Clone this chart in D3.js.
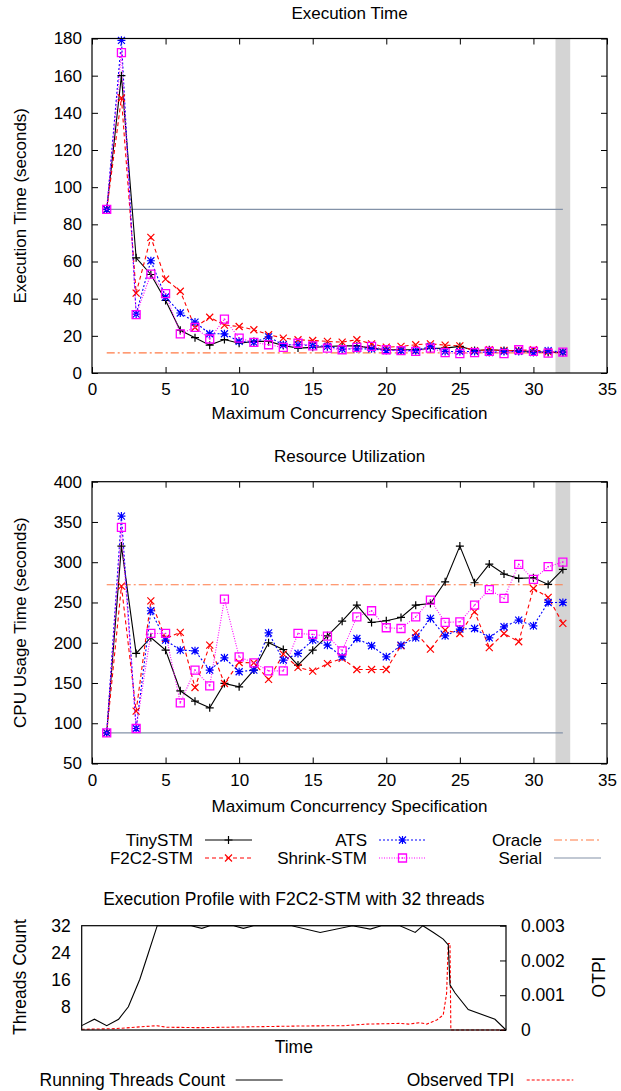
<!DOCTYPE html>
<html>
<head>
<meta charset="utf-8">
<script src="https://cdn.jsdelivr.net/npm/d3@7"></script>
<style>
  body { margin:0; background:#fff; }
  text { font-family:"Liberation Sans", Arial, sans-serif; fill:#000; }
</style>
</head>
<body>
<svg width="621" height="1091"></svg>
<script>
// concurrency levels 1..32
const conc = d3.range(1, 33);

// execution time (seconds)
const timeTiny   = [88,160,62,53,39,23,19,15,18,16,17,17,14.8,13.4,13.8,14.3,14.6,14.6,13.4,12.5,12.5,12.5,13.2,13.4,14.3,12.1,12.5,12.1,11.9,11.6,11,11.2];
const timeF2C2   = [88,148,43,73,50.5,44,24.5,30,25.8,25,23.3,20.6,18.8,17.9,17.5,17,16.6,17.9,15.7,13.9,14.3,15.2,15.7,15,14.6,12,12.5,12.1,12.1,12.5,11.4,11.2];
const timeATS    = [88,179,31.7,60.4,40.9,32.3,27.4,21.1,21.1,17,16.5,19.4,15.2,15.2,14.8,14.3,12.9,13,13,12.1,12.1,12,14.3,11.6,11.6,11.6,11,11.6,11.6,11,12,11.2];
const timeShrink = [88,172.4,31.4,53.2,42.7,21.1,24.5,18.3,29,18.8,16.5,15.2,13.8,16,14.6,13.4,12.5,13.8,14.3,12.5,12,11.6,13.4,11,10.4,11,11.6,10.4,12.5,11.6,10.7,11.2];
const timeOracle = 10.8, timeSerial = 88;

// cpu usage time (seconds)
const cpuTiny   = [88,320,186.7,206.5,190.8,140.3,127.4,119.1,149.4,145.2,166,200,191.6,172.2,190.8,208.6,226.8,246.7,225.2,227.3,231.4,246.7,248.8,275.7,320,274.5,297.7,285.3,279.9,280.7,272.4,291];
const cpuF2C2   = [88,270.3,115,252,205.3,212.8,144.4,197,149.4,175.5,175,154.4,185.8,169.3,164.7,174,180.5,166.8,166.8,166.8,196.2,212.3,192,215.7,211.5,238.4,194,211.5,201.2,267.4,256.3,224];
const cpuATS    = [88,357.3,93.5,239.7,203.2,190.8,190,166,181.3,164,166,212.3,178.4,186.7,203.2,197,182.5,205.3,196.2,182.5,197,206.1,230.2,208.6,217,217.7,206.1,219.8,228,221,250,250];
const cpuShrink = [88,343.2,93.5,211.5,211.5,125.4,166,146.5,254.2,182.5,175,165.1,165.1,211.5,210.3,208.2,190,232.2,239.7,218.6,217.7,232.2,252.9,225.2,226,246.7,266,255,297.3,278.6,294.4,300.2];
const cpuOracle = 272, cpuSerial = 88;

const band = [31.5, 32.5];   // shaded column

// execution profile (time as % of run)
const thrT = [0,3,5.9,8.7,11,13.7,15.7,17.8,25.8,28.3,30.2,35.8,38.1,40.5,49.5,56.2,63.8,68,70.6,75,78.6,80.4,82.9,85.2,86.4,86.8,88,91.1,97.4,100];
const thrN = [2.3,4.2,2.3,4.2,7.9,16.1,23.8,32,32,31.2,32,32,31.2,32,32,30,32,31,32,32,30,32,30,28,26.3,14.4,12,7.1,4.2,1];
const tpiT = [0,8,17.7,20,27.9,51.4,61.6,67.2,75,77,79.7,81.3,83.7,85.2,86,86.4,86.8,87,100];
const tpiV = [0.00002,0.00004,0.000124,0.00008,0.000067,0.000115,0.000124,0.00017,0.00019,0.00017,0.00021,0.00017,0.00029,0.00043,0.00105,0.00249,0.00249,0,0];

const svg = d3.select('svg');

const styles = [
  {name:'TinySTM',    c:'#000',    dash:null,     m:'plus'},
  {name:'F2C2-STM',   c:'#ff0000', dash:'4,3',    m:'cross'},
  {name:'ATS',        c:'#0000ff', dash:'2,2',    m:'star'},
  {name:'Shrink-STM', c:'#ff00ff', dash:'1,1.5',  m:'square'}
];
const oracleStyle = {c:'#ff7a45', dash:'8,3,2,3'};
const serialStyle = {c:'#8392a8', dash:null};

function marker(g, kind, x, y, c){
  const p = {
    plus:  'M-4,0H4M0,-4V4',
    cross: 'M-3.5,-3.5L3.5,3.5M-3.5,3.5L3.5,-3.5',
    star:  'M-4,0H4M0,-4V4M-3.5,-3.5L3.5,3.5M-3.5,3.5L3.5,-3.5',
    square:'M-4,-4H4V4H-4Z'
  }[kind];
  g.append('path').attr('d', p).attr('transform', `translate(${x},${y})`)
    .attr('fill','none').attr('stroke', c).attr('stroke-width', kind=='square'?1.3:1.2);
  if (kind=='square')
    g.append('rect').attr('x', x-0.7).attr('y', y-0.7).attr('width',1.4).attr('height',1.4).attr('fill', c);
}

function lineChart(o){
  const x = d3.scaleLinear().domain([0,35]).range([92,607]);
  const y = d3.scaleLinear().domain(o.ydom).range(o.yr);
  const g = svg.append('g');

  g.append('rect').attr('x', x(band[0])).attr('y', y.range()[1])
    .attr('width', x(band[1])-x(band[0])).attr('height', y.range()[0]-y.range()[1]).attr('fill','#d4d4d4');

  // ticks on all four sides, pointing inward
  const tk = 6;
  g.append('g').attr('transform',`translate(0,${o.yr[0]})`)
    .call(d3.axisBottom(x).ticks(7).tickSize(-tk).tickPadding(tk+4))
    .call(a=>a.select('.domain').remove());
  g.append('g').attr('transform',`translate(0,${o.yr[1]})`)
    .call(d3.axisTop(x).ticks(7).tickSize(-tk).tickFormat(''))
    .call(a=>a.select('.domain').remove());
  g.append('g').attr('transform',`translate(92,0)`)
    .call(d3.axisLeft(y).tickValues(o.yt).tickSize(-tk).tickPadding(tk+4))
    .call(a=>a.select('.domain').remove());
  g.append('g').attr('transform',`translate(607,0)`)
    .call(d3.axisRight(y).tickValues(o.yt).tickSize(-tk).tickFormat(''))
    .call(a=>a.select('.domain').remove());
  g.selectAll('.tick text').attr('font-size', 17).attr('font-family','"Liberation Sans", Arial, sans-serif');
  g.selectAll('.tick line').attr('stroke','#000');

  const ref = (v, s) => g.append('line').attr('x1', x(1)).attr('x2', x(32))
    .attr('y1', y(v)).attr('y2', y(v)).attr('stroke', s.c).attr('stroke-width', 1.2)
    .attr('stroke-dasharray', s.dash);
  ref(o.serial, serialStyle);
  ref(o.oracle, oracleStyle);

  const line = d3.line().x((d,i)=>x(conc[i])).y(d=>y(d));
  o.series.forEach((vals, k) => {
    const s = styles[k];
    g.append('path').datum(vals).attr('d', line).attr('fill','none')
      .attr('stroke', s.c).attr('stroke-width', 1.1).attr('stroke-dasharray', s.dash);
  });
  o.series.forEach((vals, k) => {
    vals.forEach((v,i) => marker(g, styles[k].m, x(conc[i]), y(v), styles[k].c));
  });

  g.append('rect').attr('x',92).attr('y',o.yr[1]).attr('width',607-92).attr('height',o.yr[0]-o.yr[1])
    .attr('fill','none').attr('stroke','#000').attr('stroke-width',1.2);

  g.append('text').attr('x',349.5).attr('y',o.titleY).attr('text-anchor','middle').attr('font-size',17).text(o.title);
  g.append('text').attr('x',349.5).attr('y',o.xlabY).attr('text-anchor','middle').attr('font-size',17).text('Maximum Concurrency Specification');
  g.append('text').attr('transform',`translate(26,${(o.yr[0]+o.yr[1])/2}) rotate(-90)`)
    .attr('text-anchor','middle').attr('font-size',17).text(o.ylab);
}

lineChart({ydom:[0,180], yr:[373,38.5], yt:d3.range(0,181,20),
  series:[timeTiny,timeF2C2,timeATS,timeShrink], oracle:timeOracle, serial:timeSerial,
  title:'Execution Time', titleY:19, xlabY:419, ylab:'Execution Time (seconds)'});

lineChart({ydom:[50,400], yr:[763.5,481.7], yt:d3.range(50,401,50),
  series:[cpuTiny,cpuF2C2,cpuATS,cpuShrink], oracle:cpuOracle, serial:cpuSerial,
  title:'Resource Utilization', titleY:462, xlabY:812, ylab:'CPU Usage Time (seconds)'});

// legend
const leg = svg.append('g');
const cols = [193, 367, 542], rows = [840, 858];
const entries = [
  {t:'TinySTM',    s:styles[0], col:0, row:0},
  {t:'F2C2-STM',   s:styles[1], col:0, row:1},
  {t:'ATS',        s:styles[2], col:1, row:0},
  {t:'Shrink-STM', s:styles[3], col:1, row:1},
  {t:'Oracle',     s:oracleStyle, col:2, row:0},
  {t:'Serial',     s:serialStyle, col:2, row:1}
];
entries.forEach(e => {
  const tx = cols[e.col], ty = rows[e.row];
  leg.append('text').attr('x', tx).attr('y', ty).attr('dy','0.35em').attr('text-anchor','end')
    .attr('font-size',17).text(e.t);
  leg.append('line').attr('x1', tx+12).attr('x2', tx+59).attr('y1', ty).attr('y2', ty)
    .attr('stroke', e.s.c).attr('stroke-width',1.2).attr('stroke-dasharray', e.s.dash);
  if (e.s.m) marker(leg, e.s.m, tx+35.5, ty, e.s.c);
});

// execution profile
(function(){
  const x = d3.scaleLinear().domain([0,100]).range([81.7,506]);
  const yl = d3.scaleLinear().domain([1,32]).range([1030,925.7]);
  const yr = d3.scaleLinear().domain([0,0.003]).range([1030,925.7]);
  const g = svg.append('g');

  g.append('g').attr('transform','translate(81.7,0)')
    .call(d3.axisLeft(yl).tickValues([8,16,24,32]).tickSize(0).tickPadding(11))
    .call(a=>a.select('.domain').remove());
  g.append('g').attr('transform','translate(506,0)')
    .call(d3.axisRight(yr).tickValues([0,0.001,0.002,0.003]).tickSize(-6).tickPadding(15).tickFormat(d3.format('.3~f')))
    .call(a=>a.select('.domain').remove());
  g.selectAll('.tick text').attr('font-size',17.5).attr('font-family','"Liberation Sans", Arial, sans-serif');
  g.selectAll('.tick line').attr('stroke','#000');

  g.append('path').datum(tpiV).attr('fill','none').attr('stroke','#ff0000').attr('stroke-width',1.1)
    .attr('stroke-dasharray','3,2')
    .attr('d', d3.line().x((d,i)=>x(tpiT[i])).y(d=>yr(d)));
  g.append('path').datum(thrN).attr('fill','none').attr('stroke','#000').attr('stroke-width',1.1)
    .attr('d', d3.line().x((d,i)=>x(thrT[i])).y(d=>yl(d)));

  g.append('rect').attr('x',81.7).attr('y',925.7).attr('width',506-81.7).attr('height',1030-925.7)
    .attr('fill','none').attr('stroke','#000').attr('stroke-width',1.2);

  g.append('text').attr('x',293.8).attr('y',899).attr('dy','0.35em').attr('text-anchor','middle')
    .attr('font-size',17.5).text('Execution Profile with F2C2-STM with 32 threads');
  g.append('text').attr('x',293.8).attr('y',1047).attr('dy','0.35em').attr('text-anchor','middle')
    .attr('font-size',17.5).text('Time');
  g.append('text').attr('transform','translate(20,977) rotate(-90)').attr('dy','0.35em')
    .attr('text-anchor','middle').attr('font-size',17.5).text('Threads Count');
  g.append('text').attr('transform','translate(599,977) rotate(-90)').attr('dy','0.35em')
    .attr('text-anchor','middle').attr('font-size',17.5).text('OTPI');

  g.append('text').attr('x',225).attr('y',1080).attr('dy','0.35em').attr('text-anchor','end')
    .attr('font-size',17.5).text('Running Threads Count');
  g.append('line').attr('x1',235.7).attr('x2',282.7).attr('y1',1080).attr('y2',1080)
    .attr('stroke','#000').attr('stroke-width',1.1);
  g.append('text').attr('x',514.3).attr('y',1080).attr('dy','0.35em').attr('text-anchor','end')
    .attr('font-size',17.5).text('Observed TPI');
  g.append('line').attr('x1',526.7).attr('x2',573.3).attr('y1',1080).attr('y2',1080)
    .attr('stroke','#ff0000').attr('stroke-width',1.1).attr('stroke-dasharray','3,2');
})();
</script>
</body>
</html>
